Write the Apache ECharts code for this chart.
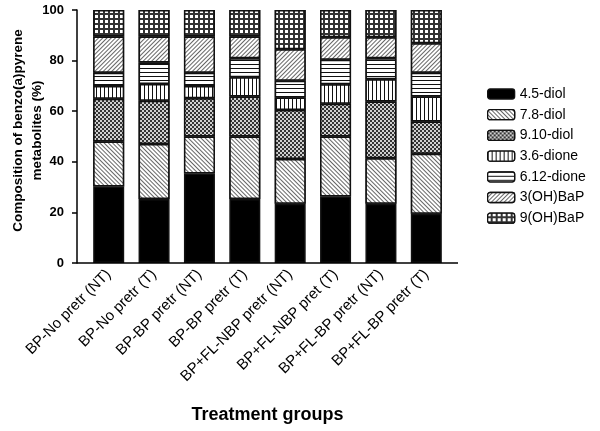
<!DOCTYPE html>
<html><head><meta charset="utf-8">
<script src="https://cdn.jsdelivr.net/npm/echarts@6/dist/echarts.min.js"></script>
<style>html,body{margin:0;padding:0;background:#fff}#c{width:600px;height:431px}</style>
</head><body><div id="c"></div>
<script>
const categories = ["BP-No pretr (NT)", "BP-No pretr (T)", "BP-BP pretr (NT)", "BP-BP pretr (T)",
  "BP+FL-NBP pretr (NT)", "BP+FL-NBP pret (T)", "BP+FL-BP pretr (NT)", "BP+FL-BP pretr (T)"];
const seriesNames = ["4.5-diol", "7.8-diol", "9.10-diol", "3.6-dione", "6.12-dione", "3(OH)BaP", "9(OH)BaP"];
const diol45   = [30.2, 25.3, 35.4, 25.3, 23.4, 26.3, 23.4, 19.5];
const diol78   = [17.8, 21.7, 14.6, 24.7, 17.7, 23.7, 18.0, 23.7];
const diol910  = [16.9, 17.1, 15.1, 15.8, 19.4, 12.9, 22.4, 12.7];
const dione36  = [5.1, 6.7, 4.9, 7.6, 4.9, 7.8, 8.8, 9.9];
const dione612 = [5.2, 8.4, 5.2, 7.5, 6.6, 9.6, 8.3, 9.4];
const oh3      = [14.3, 10.3, 14.3, 8.6, 12.5, 8.9, 8.3, 11.7];
const oh9      = [10.5, 10.5, 10.5, 10.5, 15.5, 10.8, 10.8, 13.1];
const yTicks = [0, 20, 40, 60, 80, 100];

const values = [diol45, diol78, diol910, dione36, dione612, oh3, oh9];
const FONT = "'Liberation Sans', Arial, sans-serif";
const decals = [
  null,
  {symbol: 'rect', symbolSize: 1, dashArrayX: [1, 0], dashArrayY: [1, 2], rotation: Math.PI / 4, color: '#666', backgroundColor: '#fff'},
  {symbol: 'rect', symbolSize: 1, dashArrayX: [[1.5, 1.5], [0, 1.5, 1.5, 0]], dashArrayY: [1.5, 0], color: '#333', backgroundColor: '#d0d0d0'},
  {symbol: 'rect', symbolSize: 1, dashArrayX: [1, 3], dashArrayY: [1, 0], color: '#111', backgroundColor: '#fff'},
  {symbol: 'rect', symbolSize: 1, dashArrayX: [1, 0], dashArrayY: [1, 3], color: '#111', backgroundColor: '#fff'},
  {symbol: 'rect', symbolSize: 1, dashArrayX: [1, 0], dashArrayY: [1, 2], rotation: -Math.PI / 4, color: '#666', backgroundColor: '#fff'},
  {symbol: 'rect', symbolSize: 1, dashArrayX: [2.4, 1.1], dashArrayY: [2.4, 1.1], color: '#fff', backgroundColor: '#333'}
];

const series = seriesNames.map((name, i) => {
  const itemStyle = {color: i === 0 ? '#000' : '#fff', borderColor: '#111', borderWidth: 1.5};
  if (decals[i]) itemStyle.decal = decals[i];
  return {name, type: 'bar', stack: 'total', barWidth: 31, data: values[i], itemStyle, emphasis: {disabled: true}};
});

const chart = echarts.init(document.getElementById('c'), null, {renderer: 'canvas'});
chart.setOption({
  animation: false,
  backgroundColor: '#fff',
  textStyle: {fontFamily: FONT},
  grid: {left: 86, right: 151, top: 10, bottom: 168, containLabel: false, outerBoundsMode: 'none'},
  legend: {
    orient: 'vertical', left: 482, top: 82, itemWidth: 27, itemHeight: 10, itemGap: 6.7,
    data: seriesNames,
    textStyle: {fontSize: 14, color: '#000', fontFamily: FONT},
    itemStyle: {borderColor: '#111', borderWidth: 1.3}
  },
  xAxis: {
    type: 'category', data: categories,
    axisLine: {show: false},
    axisTick: {show: false},
    axisLabel: {interval: 0, rotate: 45, margin: 9, fontSize: 15, color: '#000', fontFamily: FONT},
    name: 'Treatment groups', nameLocation: 'middle', nameGap: 143, nameMoveOverlap: false,
    nameTextStyle: {fontSize: 18, fontWeight: 'bold', color: '#000', fontFamily: FONT}
  },
  yAxis: {
    type: 'value', min: 0, max: 100, interval: 20, offset: 9,
    splitLine: {show: false},
    axisLine: {show: true, lineStyle: {color: '#000', width: 1.5}},
    axisTick: {show: true, length: 5, lineStyle: {color: '#000', width: 1.5}},
    axisLabel: {fontSize: 13, fontWeight: 'bold', color: '#000', margin: 13, fontFamily: FONT,
      formatter: v => (yTicks.indexOf(v) >= 0 ? String(v) : '')},
    name: 'Composition of benzo(a)pyrene\nmetabolites (%)', nameLocation: 'middle', nameGap: 30, nameMoveOverlap: false,
    nameTextStyle: {fontSize: 13.5, fontWeight: 'bold', color: '#000', lineHeight: 19, fontFamily: FONT, padding: [0, 0, 0, 12]}
  },
  series
});
const y0 = chart.convertToPixel({yAxisIndex: 0}, 0);
chart.setOption({
  graphic: [{type: 'line', shape: {x1: 77, y1: y0, x2: 458, y2: y0}, style: {stroke: '#000', lineWidth: 1.5}, z: 10}]
});
</script></body></html>
